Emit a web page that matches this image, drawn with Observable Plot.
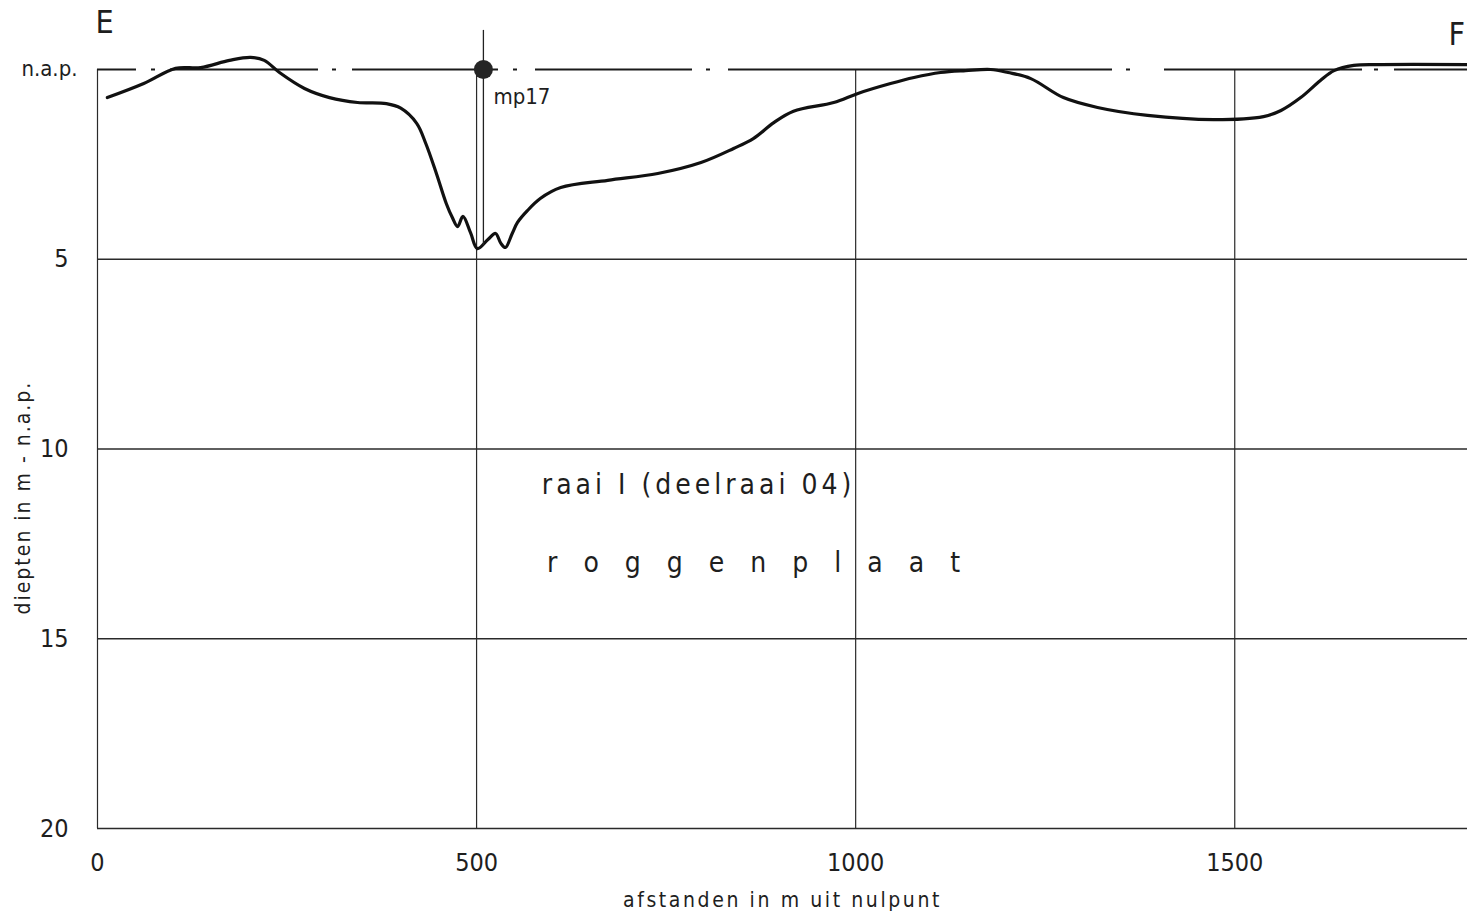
<!DOCTYPE html>
<html><head><meta charset="utf-8">
<script src="https://cdn.jsdelivr.net/npm/d3@7"></script>
<script src="https://cdn.jsdelivr.net/npm/@observablehq/plot@0.6"></script>
<style>
html,body{margin:0;padding:0;background:#fff;overflow:hidden;}
#chart svg{display:block;}
</style></head><body><div id="chart"></div>
<script>
// profile: distance from zero point (m) and depth below n.a.p. (m)
const distance = [13,61,103,136,174,202,220,240,273,306,343,381,400,421,433,447,460,468,475,482,492,501,515,525,532,538,547,554,567,584,611,673,739,796,839,865,892,918,971,1003,1046,1077,1112,1145,1178,1201,1231,1274,1319,1385,1472,1538,1561,1587,1613,1631,1657,1693,1807];
const depth = [0.74,0.37,-0.03,-0.05,-0.24,-0.32,-0.24,0.08,0.50,0.74,0.87,0.90,1.02,1.42,1.95,2.74,3.53,3.90,4.14,3.87,4.30,4.72,4.48,4.32,4.58,4.69,4.32,4.03,3.72,3.40,3.11,2.92,2.74,2.45,2.08,1.82,1.40,1.10,0.87,0.63,0.37,0.21,0.08,0.03,0.00,0.08,0.24,0.74,1.00,1.21,1.32,1.24,1.08,0.74,0.29,0.03,-0.11,-0.13,-0.13];
const xTicks = [0,500,1000,1500];
const yTicks = [5,10,15,20];
const gridDistances = [0,500,1000,1500];
const gridDepths = [5,10,15,20];
const napLevel = [0];
const pointName = ["mp17"];
const pointDistance = [509];
const pointDepth = [0];
const pointRodTop = [-1.03];
const pointRodBottom = [4.64];
const xMax = 1807;

const profile = distance.map((d,i)=>({distance:d, depth:depth[i]}));
const points = pointName.map((n,i)=>({name:n, distance:pointDistance[i], depth:pointDepth[i], top:pointRodTop[i], bottom:pointRodBottom[i]}));

const FONT = "'DejaVu Sans Condensed','Liberation Sans Narrow','DejaVu Sans',sans-serif";
const INK = "#1e1e1e";

const chart = Plot.plot({
  width: 1467, height: 915,
  marginLeft: 97, marginRight: 0, marginTop: 69, marginBottom: 87,
  style: {fontFamily: FONT, color: INK, background: "#fff"},
  x: {domain: [0, xMax]},
  y: {domain: [0, 20], reverse: true},
  marks: [
    Plot.ruleY(gridDepths, {x1: 0, x2: xMax, stroke: "#2a2a2a", strokeWidth: 1.3}),
    Plot.ruleX(gridDistances, {y1: 0, y2: 20, stroke: "#2a2a2a", strokeWidth: 1.2}),
    Plot.ruleY(napLevel, {x1: 0, x2: xMax, stroke: "#1a1a1a", strokeWidth: 2,
      strokeDasharray: "39,15,4,15,148,14,4,16,146,15,4,18,157,14,4,18,384,14,4,34,198,12,4,16,200"}),
    Plot.line(profile, {x: "distance", y: "depth", curve: "catmull-rom", stroke: "#111", strokeWidth: 3.2}),
    Plot.ruleX(points, {x: "distance", y1: "top", y2: "bottom", stroke: "#222", strokeWidth: 1.3}),
    Plot.dot(points, {x: "distance", y: "depth", r: 9.5, fill: "#252525", stroke: "none"}),
    Plot.text(points, {x: "distance", y: "depth", text: "name", textAnchor: "start", dx: 10, dy: 27, fontSize: 22, fill: INK}),
    Plot.axisX({ticks: xTicks, tickFormat: "d", tickSize: 0, tickPadding: 25, fontSize: 25, label: null, anchor: "bottom"}),
    Plot.axisY({ticks: yTicks, tickFormat: "d", tickSize: 0, tickPadding: 29, fontSize: 25, label: null, anchor: "left"}),
    Plot.text(napLevel, {x: 0, y: d => d, text: () => "n.a.p.", textAnchor: "end", dx: -20, dy: -1, fontSize: 22, fill: INK}),
    Plot.text(["afstanden in m uit nulpunt"], {frameAnchor: "bottom", text: d => d, dy: 78, fontSize: 21, fill: INK}),
    Plot.text(["diepten in m - n.a.p."], {x: 0, y: 11.28, text: d => d, rotate: -90, dx: -74, fontSize: 21, fill: INK}),
    Plot.text(["raai I (deelraai 04)"], {x: 586, y: 10.94, text: d => d, textAnchor: "start", fontSize: 28, fill: INK}),
    Plot.text(["r o g g e n p l a a t"], {x: 593, y: 13.0, text: d => d, textAnchor: "start", fontSize: 28, fill: INK}),
    Plot.text(["E"], {x: 0, y: 0, text: d => d, textAnchor: "start", dx: -2, dy: -47, fontSize: 32, fill: INK}),
    Plot.text(["F"], {x: 1782, y: 0, text: d => d, textAnchor: "start", dy: -35, fontSize: 32, fill: INK})
  ]
});
document.getElementById("chart").appendChild(chart);
const sel = d3.select(chart);
const spacing = {"afstanden in m uit nulpunt": "2.6px", "diepten in m - n.a.p.": "2px", "raai I (deelraai 04)": "4px", "r o g g e n p l a a t": "9px"};
sel.selectAll("text").each(function(){
  const s = spacing[this.textContent];
  if (s) d3.select(this).style("letter-spacing", s);
});
</script></body></html>
